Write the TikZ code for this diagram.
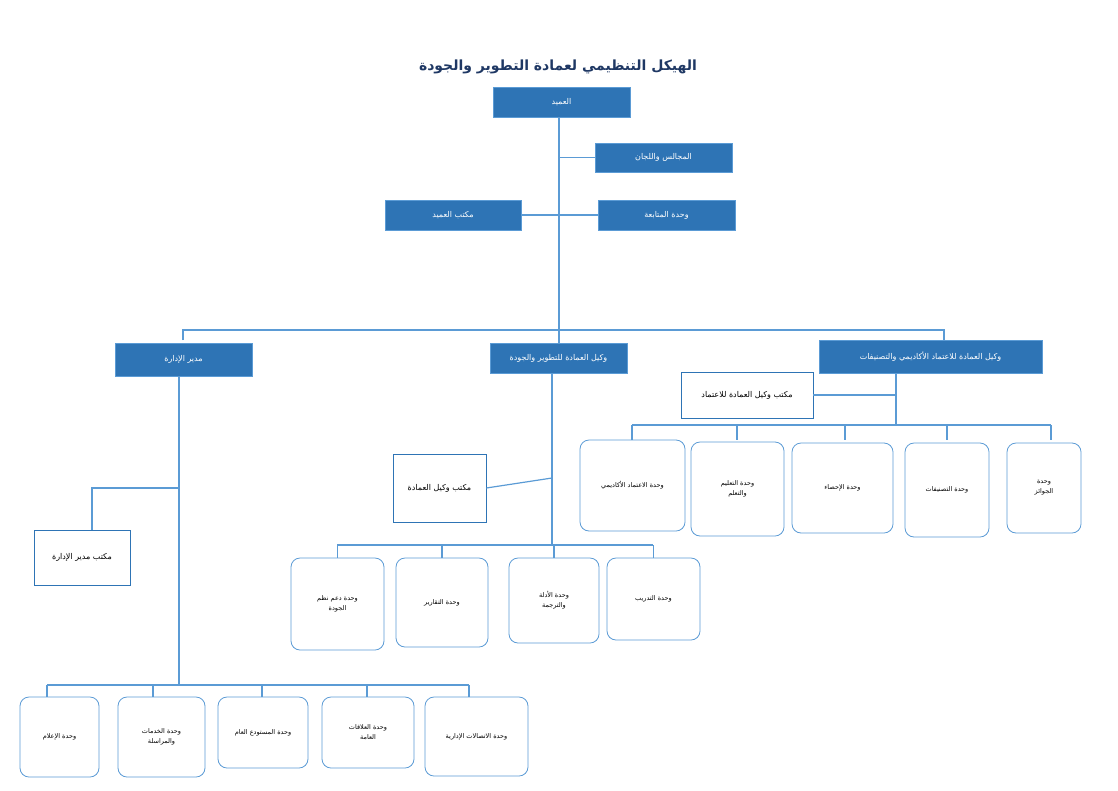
\documentclass[tikz,border=0pt]{standalone}
\usepackage{fontspec}
\newfontfamily\arfont[Script=Arabic]{DejaVu Sans}
\TeXXeTstate=1
\newcommand{\rl}[1]{\beginR #1\endR}
\definecolor{boxblue}{HTML}{2E74B5}
\definecolor{lineblue}{HTML}{5B9BD5}
\definecolor{titleblue}{HTML}{1F3864}
\tikzset{
  head/.style={draw=lineblue, fill=boxblue, text=white, font=\arfont\fontsize{8}{10}\selectfont, inner sep=1pt},
  office/.style={draw=boxblue, thick, fill=white, font=\arfont\fontsize{8}{10}\selectfont, inner sep=1pt, align=center},
  unit/.style={draw=lineblue, thick, fill=white, rounded corners=9pt, font=\arfont\fontsize{6.5}{10}\selectfont, inner sep=1pt, align=center},
  link/.style={draw=lineblue, line width=1.2pt}
}
\begin{document}
\begin{tikzpicture}[x=1pt,y=-1pt]
\useasboundingbox (0,0) rectangle (1118,790);
\node[font=\arfont\bfseries\fontsize{14}{16}\selectfont, text=titleblue] (title) at (558,67) {\rl{الهيكل التنظيمي لعمادة التطوير والجودة}};
% top level
\node[head, minimum width=137, minimum height=30] (dean) at (561.5,102) {\rl{العميد}};
\node[head, minimum width=137, minimum height=29] (councils) at (663.5,157.5) {\rl{المجالس واللجان}};
\node[head, minimum width=137, minimum height=30] (follow) at (666.5,215) {\rl{وحدة المتابعة}};
\node[head, minimum width=136, minimum height=30] (deanoff) at (453,215) {\rl{مكتب العميد}};
\coordinate (spine) at (559,330);
\draw[link] (dean.south -| spine) -- (spine);
\draw[link] (559,157.5) -- (councils.west);
\draw[link] (deanoff.east) -- (follow.west);
% vice deans
\node[head, minimum width=137, minimum height=33] (admin) at (183.5,359.5) {\rl{مدير الإدارة}};
\node[head, minimum width=137, minimum height=30] (vdev) at (558.5,358) {\rl{وكيل العمادة للتطوير والجودة}};
\node[head, minimum width=223, minimum height=33] (vacc) at (930.5,356.5) {\rl{وكيل العمادة للاعتماد الأكاديمي والتصنيفات}};
\draw[link] (183,340) -- (183,330) -- (944,330) -- (944,340);
\draw[link] (559,330) -- (559,343);
% accreditation branch
\node[office, minimum width=132, minimum height=46] (accoff) at (747,395) {\rl{مكتب وكيل العمادة للاعتماد}};
\draw[link] (896,373) -- (896,425);
\draw[link] (accoff.east) -- (896,395);
\draw[link] (632,425) -- (1051,425);
\node[unit, minimum width=105, minimum height=91] (u1) at (632.5,485.5) {\rl{وحدة الاعتماد الأكاديمي}};
\node[unit, minimum width=93, minimum height=94] (u2) at (737.5,489) {\rl{وحدة التعليم}\\\rl{والتعلم}};
\node[unit, minimum width=101, minimum height=90] (u3) at (842.5,488) {\rl{وحدة الإحصاء}};
\node[unit, minimum width=84, minimum height=94] (u4) at (947,490) {\rl{وحدة التصنيفات}};
\node[unit, minimum width=74, minimum height=90] (u5) at (1044,488) {\rl{وحدة}\\\rl{الجوائز}};
\foreach \x in {632,737,845,947,1051} \draw[link] (\x,425) -- (\x,440);
% development branch
\node[office, minimum width=93, minimum height=68] (devoff) at (439.5,488) {\rl{مكتب وكيل العمادة}};
\draw[link] (552,373) -- (552,545);
\draw[link] (devoff.east) -- (552,478);
\draw[link] (337,545) -- (653,545);
\node[unit, minimum width=93, minimum height=92] (d1) at (337.5,604) {\rl{وحدة دعم نظم}\\\rl{الجودة}};
\node[unit, minimum width=92, minimum height=89] (d2) at (442,602.5) {\rl{وحدة التقارير}};
\node[unit, minimum width=90, minimum height=85] (d3) at (554,600.5) {\rl{وحدة الأدلة}\\\rl{والترجمة}};
\node[unit, minimum width=93, minimum height=82] (d4) at (653.5,599) {\rl{وحدة التدريب}};
\foreach \u in {d1,d2,d3,d4} \draw[link] (\u.north |- 0,545) -- (\u.north);
% administration branch
\node[office, minimum width=96, minimum height=55] (admoff) at (82,557.5) {\rl{مكتب مدير الإدارة}};
\draw[link] (179,376) -- (179,685);
\draw[link] (179,488) -- (92,488) -- (92,530);
\draw[link] (47,685) -- (469,685);
\node[unit, minimum width=79, minimum height=80] (a1) at (59.5,737) {\rl{وحدة الإعلام}};
\node[unit, minimum width=87, minimum height=80] (a2) at (161.5,737) {\rl{وحدة الخدمات}\\\rl{والمراسلة}};
\node[unit, minimum width=90, minimum height=71] (a3) at (263,732.5) {\rl{وحدة المستودع العام}};
\node[unit, minimum width=92, minimum height=71] (a4) at (368,732.5) {\rl{وحدة العلاقات}\\\rl{العامة}};
\node[unit, minimum width=103, minimum height=79] (a5) at (476.5,736.5) {\rl{وحدة الاتصالات الإدارية}};
\foreach \x in {47,153,262,367,469} \draw[link] (\x,685) -- (\x,697);
\end{tikzpicture}
\end{document}
